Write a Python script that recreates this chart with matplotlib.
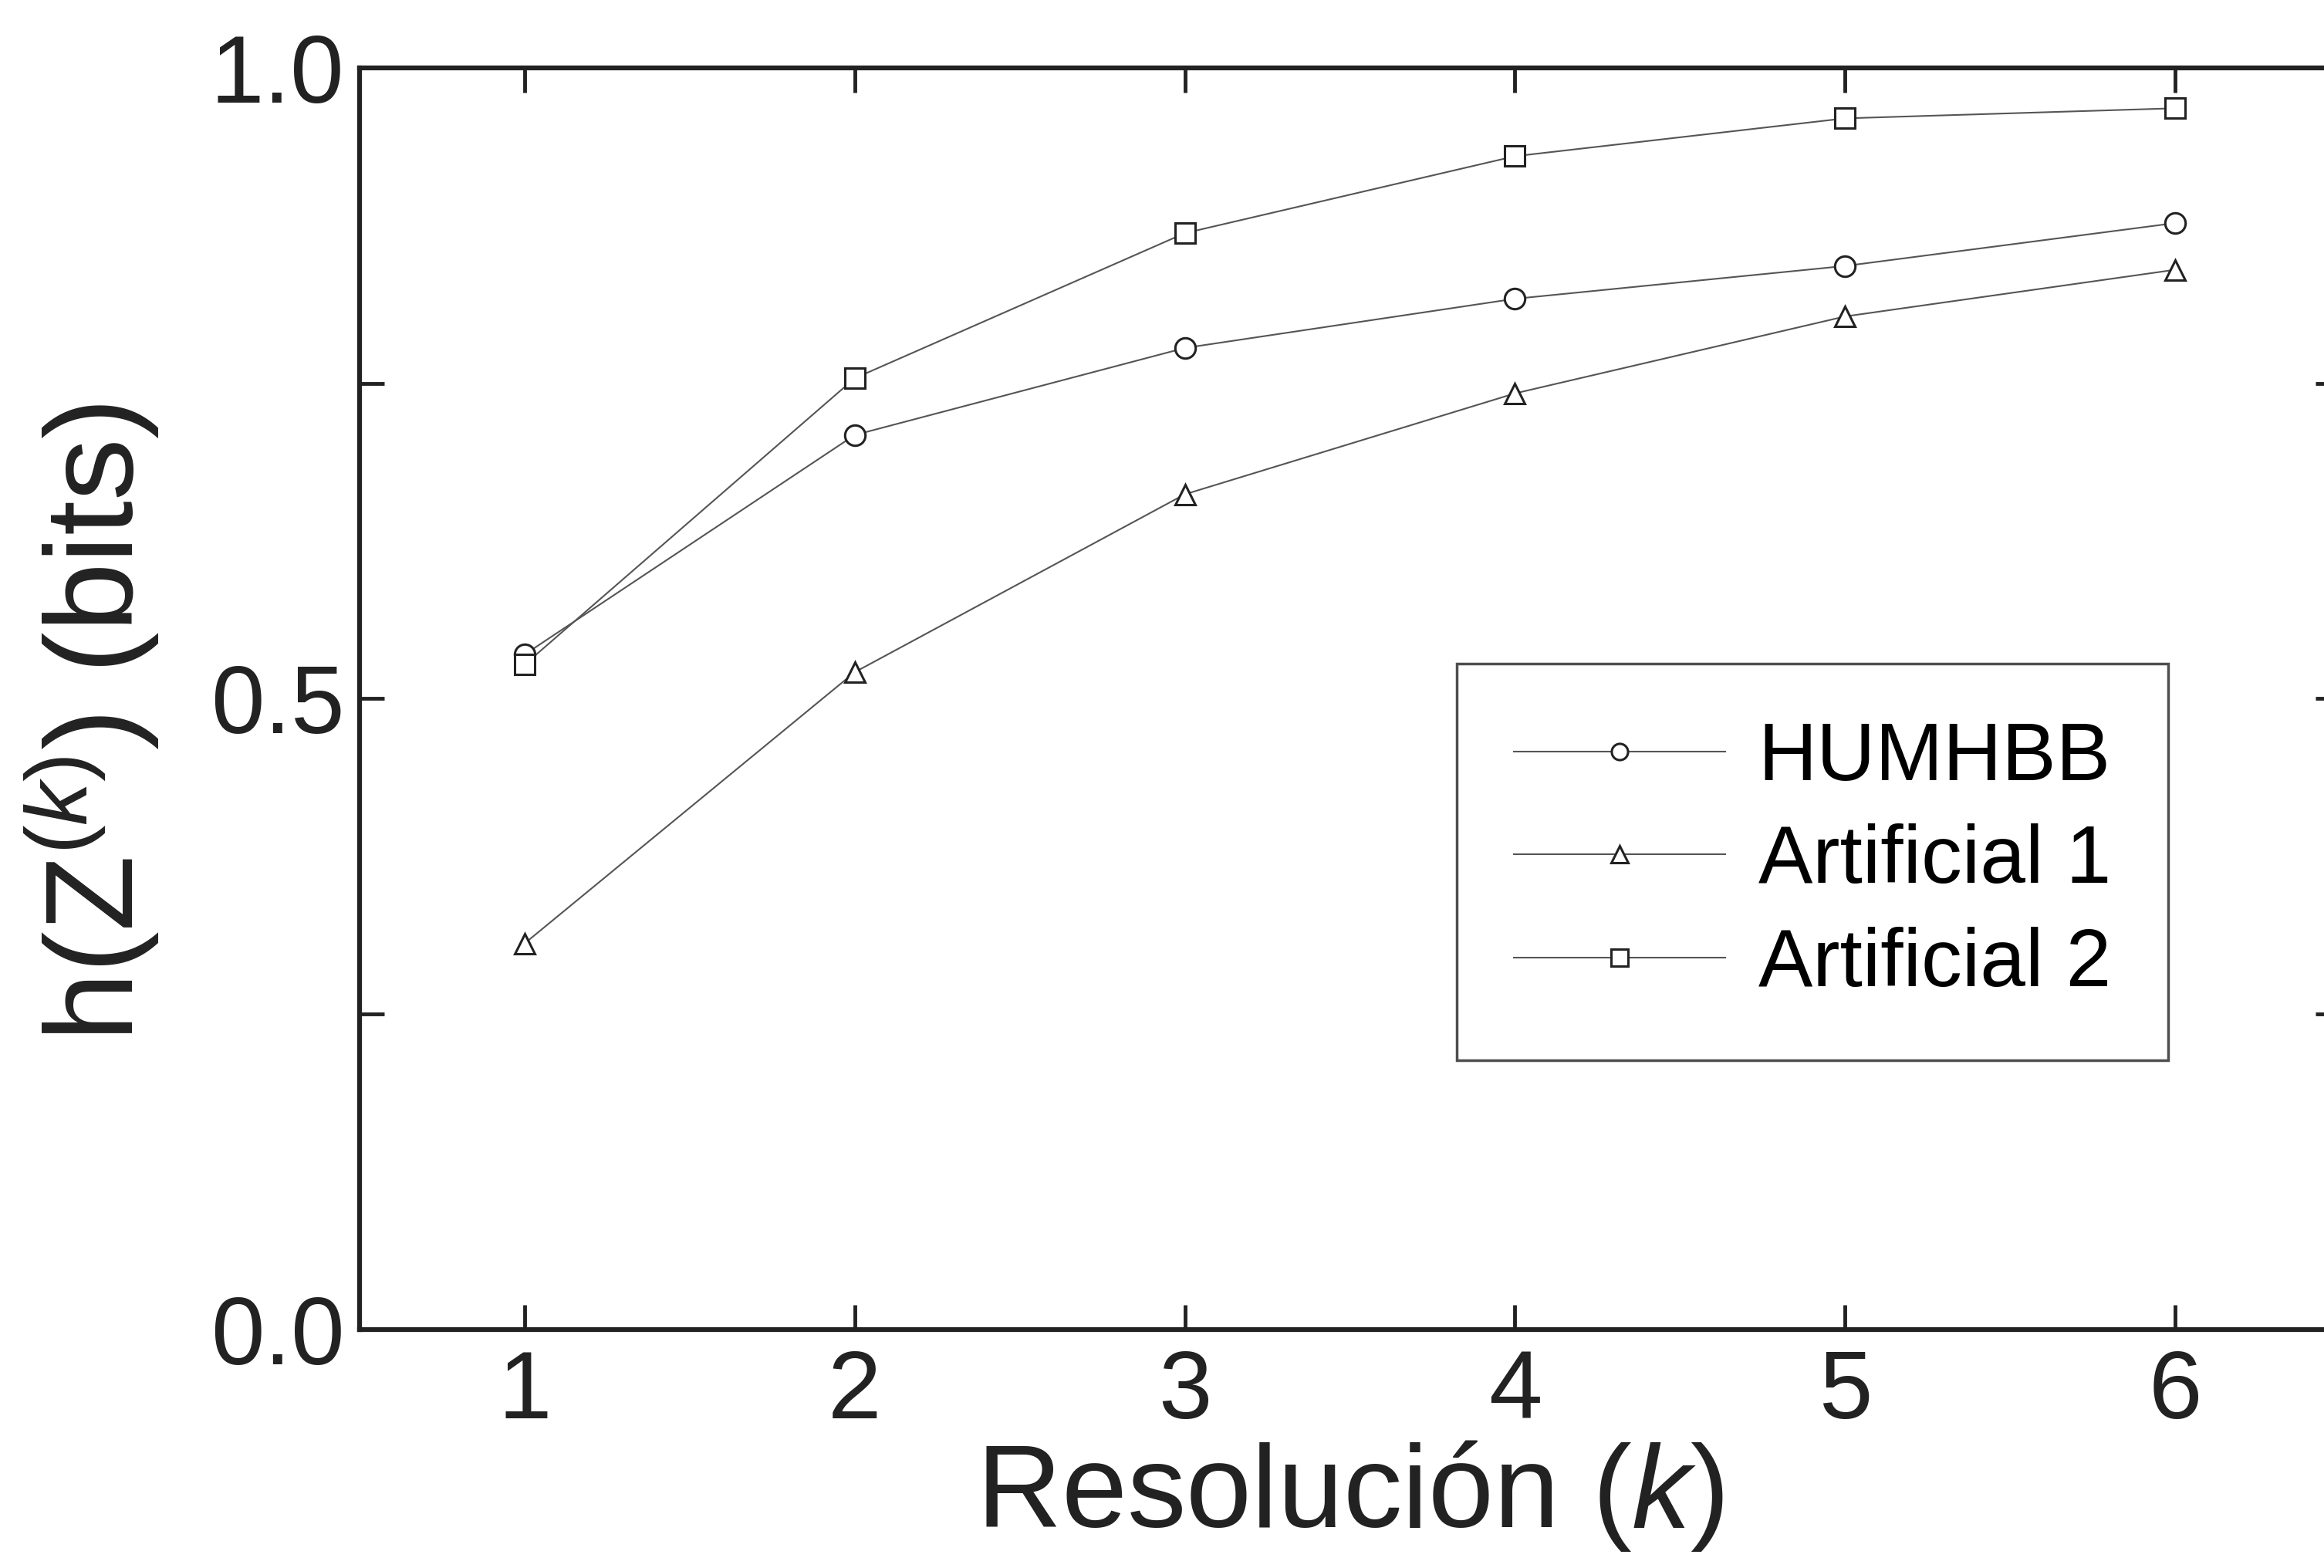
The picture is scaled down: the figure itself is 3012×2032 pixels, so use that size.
import numpy as np
import matplotlib
matplotlib.use("Agg")
import matplotlib.pyplot as plt
from matplotlib.ticker import MultipleLocator

# Fonts (Arial-like)
plt.rcParams['font.family'] = ['Liberation Sans', 'DejaVu Sans']
plt.rcParams['mathtext.fontset'] = 'custom'
plt.rcParams['mathtext.rm'] = 'Liberation Sans'
plt.rcParams['mathtext.it'] = 'Liberation Sans:italic'

# Data
k = [1, 2, 3, 4, 5, 6]
humhbb = [0.535, 0.709, 0.778, 0.817, 0.843, 0.877]
artificial1 = [0.306, 0.521, 0.662, 0.742, 0.803, 0.840]
artificial2 = [0.527, 0.754, 0.869, 0.930, 0.960, 0.968]
labels = ["HUMHBB", "Artificial 1", "Artificial 2"]

fig = plt.figure(figsize=(30.12, 20.32), dpi=100)
# right spine sits just outside the picture, as in the scanned figure
ax = fig.add_axes([0.1547, 0.1521, 0.8523, 0.8046])

line_kw = dict(color='#555555', lw=1.5, markersize=19, markerfacecolor='white',
               markeredgecolor='#222222', markeredgewidth=2.2)
ax.plot(k, humhbb, marker='o', label=labels[0], **line_kw)
ax.plot(k, artificial1, marker='^', label=labels[1], **line_kw)
ax.plot(k, artificial2, marker='s', label=labels[2], **line_kw)

ax.set_xlim(0.5, 6.5)
ax.set_ylim(0, 1.0)
ax.set_xticks(k)
ax.yaxis.set_major_locator(MultipleLocator(0.5))
ax.yaxis.set_minor_locator(MultipleLocator(0.25))
ax.yaxis.set_major_formatter(matplotlib.ticker.FormatStrFormatter('%.1f'))

ax.tick_params(which='both', direction='in', top=True, right=True,
               width=3.5, labelsize=90, color='#222222', labelcolor='#222222')
ax.tick_params(which='major', length=23, pad=22)
ax.tick_params(which='minor', length=23)
ax.tick_params(axis='y', pad=14)
ax.tick_params(axis='x', pad=18)

for s in ax.spines.values():
    s.set_linewidth(4.5)
    s.set_color('#222222')

ax.set_xlabel('Resolución ($k$)', fontsize=110, color='#222222', labelpad=0)
ax.set_ylabel('h(Z$^{(k)}$) (bits)', fontsize=116, color='#222222', labelpad=46)
ax.yaxis.label.set_y(0.481)

leg = ax.legend(loc='upper left', bbox_to_anchor=(0.554, 0.528), fontsize=76,
                frameon=True, fancybox=False, handlelength=2.6, markerscale=0.8,
                borderpad=0.7, labelspacing=0.33, handletextpad=0.4,
                borderaxespad=0)
leg.get_frame().set_edgecolor('#222222')
leg.get_frame().set_linewidth(2.5)

plt.savefig("out.png", dpi=100)
